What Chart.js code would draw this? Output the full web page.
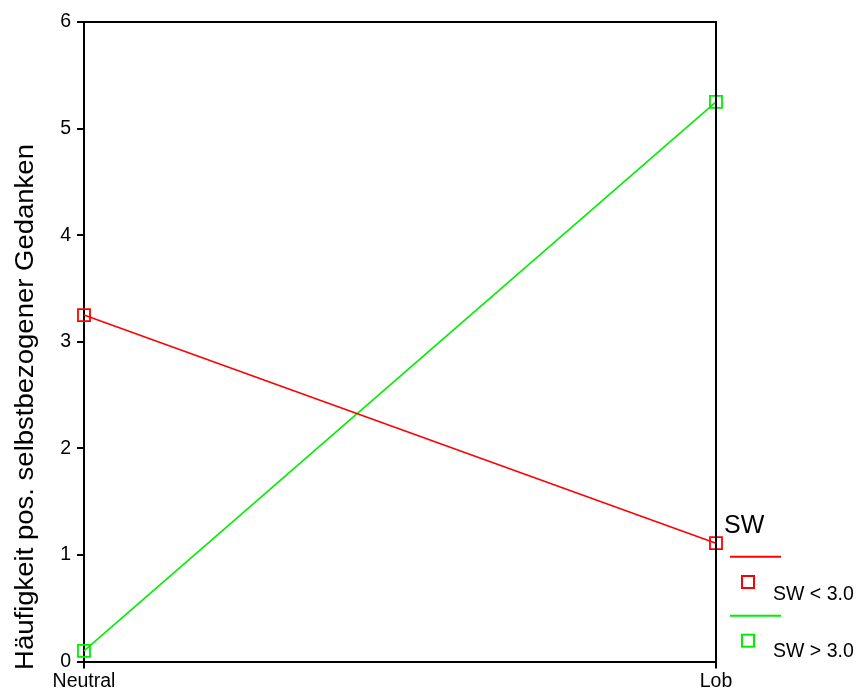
<!DOCTYPE html>
<html>
<head>
<meta charset="utf-8">
<script src="https://cdn.jsdelivr.net/npm/chart.js@4/dist/chart.umd.min.js"></script>
<style>
html,body{margin:0;padding:0;background:#fff;}
#wrap{position:relative;width:861px;height:695px;}
</style>
</head>
<body>
<div id="wrap"><canvas id="c" width="861" height="695"></canvas></div>
<script>
const categories = ['Neutral', 'Lob'];
const seriesNames = ['SW < 3.0', 'SW > 3.0'];
const swLow = [3.25, 1.11];
const swHigh = [0.10, 5.25];
const yTicks = [0, 1, 2, 3, 4, 5, 6];
const yTitle = 'Häufigkeit pos. selbstbezogener Gedanken';
const legendTitle = 'SW';
const colors = ['#ff0000', '#00ee00'];

const FONT = '"Liberation Sans", Arial, sans-serif';

const framePlugin = {
  id: 'frame',
  afterDraw(chart) {
    const ctx = chart.ctx;
    const a = chart.chartArea;
    ctx.save();
    ctx.strokeStyle = '#000';
    ctx.lineWidth = 2;
    ctx.beginPath();
    ctx.moveTo(a.left - 6, a.top);
    ctx.lineTo(a.right, a.top);
    ctx.lineTo(a.right, a.bottom);
    ctx.stroke();
    // y title
    ctx.fillStyle = '#000';
    ctx.font = '25px ' + FONT;
    ctx.textAlign = 'center';
    ctx.textBaseline = 'alphabetic';
    ctx.translate(33, 407);
    ctx.rotate(-Math.PI / 2);
    ctx.scale(1.1, 1);
    ctx.fillText(yTitle, 0, 0);
    ctx.restore();

    // legend
    ctx.save();
    ctx.fillStyle = '#000';
    ctx.font = '25px ' + FONT;
    ctx.textAlign = 'left';
    ctx.textBaseline = 'alphabetic';
    ctx.fillText(legendTitle, 724, 533);
    const rows = [{ly: 556.7, sy: 582, ty: 600}, {ly: 615.7, sy: 640.7, ty: 657}];
    seriesNames.forEach((name, i) => {
      const r = rows[i];
      ctx.strokeStyle = colors[i];
      ctx.lineWidth = 2;
      ctx.beginPath();
      ctx.moveTo(730, r.ly);
      ctx.lineTo(781, r.ly);
      ctx.stroke();
      ctx.strokeRect(742, r.sy - 6, 12, 12);
      ctx.fillStyle = '#000';
      ctx.font = '19.5px ' + FONT;
      ctx.fillText(name, 773, r.ty);
    });
    ctx.restore();
  }
};

new Chart(document.getElementById('c'), {
  type: 'line',
  data: {
    labels: categories,
    datasets: [
      { label: seriesNames[0], data: swLow, borderColor: colors[0], backgroundColor: 'transparent',
        pointBorderColor: colors[0], pointBackgroundColor: 'transparent' },
      { label: seriesNames[1], data: swHigh, borderColor: colors[1], backgroundColor: 'transparent',
        pointBorderColor: colors[1], pointBackgroundColor: 'transparent' }
    ]
  },
  options: {
    responsive: false,
    animation: false,
    layout: { padding: { left: 0, right: 145, top: 22, bottom: 0 } },
    plugins: { legend: { display: false }, tooltip: { enabled: false } },
    elements: {
      line: { borderWidth: 1.6, tension: 0 },
      point: { pointStyle: 'rect', radius: 8.5, borderWidth: 1.8 }
    },
    clip: false,
    scales: {
      x: {
        type: 'category',
        offset: false,
        grid: { drawOnChartArea: false, drawTicks: true, tickLength: 7, color: '#000', lineWidth: 2 },
        border: { display: true, color: '#000', width: 2 },
        ticks: { color: '#000', font: { family: FONT, size: 19.5 }, padding: 1, maxRotation: 0, autoSkip: false },
        afterFit(s) { s.height = 33.5; }
      },
      y: {
        min: 0, max: 6,
        afterBuildTicks(s) { s.ticks = yTicks.map(v => ({ value: v })); },
        grid: { drawOnChartArea: false, drawTicks: true, tickLength: 7, color: '#000', lineWidth: 2 },
        border: { display: true, color: '#000', width: 2 },
        ticks: { color: '#000', font: { family: FONT, size: 19.5 }, padding: 6 },
        afterFit(s) { s.width = 84; }
      }
    }
  },
  plugins: [framePlugin]
});
</script>
</body>
</html>
